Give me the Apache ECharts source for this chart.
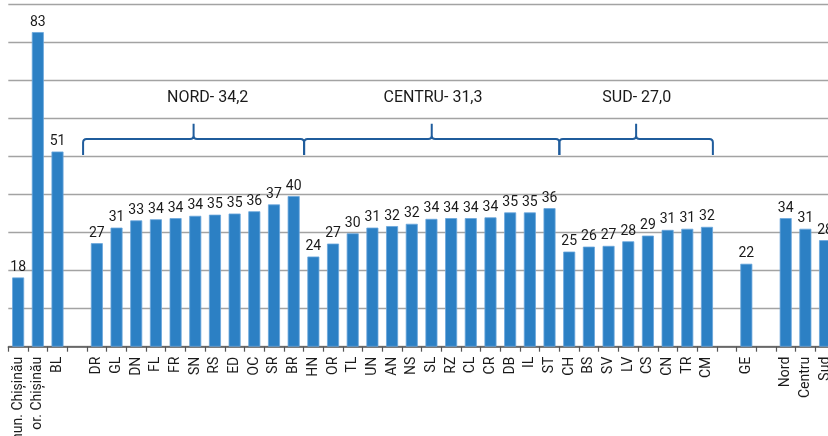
<!DOCTYPE html>
<html>
<head>
<meta charset="utf-8">
<script src="https://cdn.jsdelivr.net/npm/echarts@6/dist/echarts.min.js"></script>
<style>
  html, body { margin: 0; padding: 0; background: #fff; }
  #chart { width: 828px; height: 436px; }
</style>
</head>
<body>
<div id="chart"></div>
<script>
// ---- data ----
const categories = ['mun. Chișinău', 'or. Chișinău', 'BL', '',
  'DR', 'GL', 'DN', 'FL', 'FR', 'SN', 'RS', 'ED', 'OC', 'SR', 'BR',
  'HN', 'OR', 'TL', 'UN', 'AN', 'NS', 'SL', 'RZ', 'CL', 'CR', 'DB', 'IL', 'ST',
  'CH', 'BS', 'SV', 'LV', 'CS', 'CN', 'TR', 'CM', '', 'GE', '', 'Nord', 'Centru', 'Sud'];
const values = [18.2, 82.7, 51.3, null,
  27.2, 31.3, 33.2, 33.5, 33.8, 34.4, 34.7, 35.0, 35.6, 37.4, 39.6,
  23.7, 27.1, 29.8, 31.3, 31.7, 32.3, 33.6, 33.8, 33.8, 34.0, 35.3, 35.3, 36.4,
  25.0, 26.3, 26.5, 27.7, 29.2, 30.7, 31.0, 31.5, null, 21.8, null, 33.8, 31.0, 28.0];
const groupNames = ['NORD', 'CENTRU', 'SUD'];
const groupMeans = ['34,2', '31,3', '27,0'];
const groupFrom = [3.8, 15.03, 28];   // in category-boundary units
const groupTo = [15.03, 28, 35.8];
const groupTextAt = [10.13, 21.58, 31.93];

const FONT = 'Roboto';
const chart = echarts.init(document.getElementById('chart'), null, { renderer: 'canvas' });

function braceRender(params, api) {
  const i = params.dataIndex;
  const step = api.size([1, 0])[0];
  const c0 = api.coord([0, 54.6]);
  const edge0 = c0[0] - step / 2;
  const y = c0[1];
  const yEnd = api.coord([0, 50.4])[1];
  const yPeak = api.coord([0, 58.6])[1];
  const x1 = edge0 + groupFrom[i] * step;
  const x2 = edge0 + groupTo[i] * step;
  const xm = (x1 + x2) / 2;
  const r = 3.5;
  const d = [
    'M', x1, yEnd, 'L', x1, y + r, 'Q', x1, y, x1 + r, y,
    'L', xm - r, y, 'Q', xm, y, xm, y - r, 'L', xm, yPeak,
    'M', xm, yPeak, 'L', xm, y - r, 'Q', xm, y, xm + r, y,
    'L', x2 - r, y, 'Q', x2, y, x2, y + r, 'L', x2, yEnd
  ].join(' ');
  const ty = api.coord([0, 65.3])[1];
  const tx = edge0 + groupTextAt[i] * step;
  return {
    type: 'group',
    children: [
      { type: 'path', shape: { pathData: d },
        style: { stroke: '#1f5c9c', lineWidth: 2, fill: 'none' } },
      { type: 'text', x: tx, y: ty,
        style: { text: groupNames[i] + '- ' + groupMeans[i], align: 'center', verticalAlign: 'middle',
                 font: '16px ' + FONT, fill: '#1a1a1a' } }
    ]
  };
}

chart.setOption({
  animation: false,
  backgroundColor: '#ffffff',
  grid: { left: 8.3, right: -6.9, top: 4.3, bottom: 89.3, containLabel: false, outerBoundsMode: 'none' },
  xAxis: {
    type: 'category',
    data: categories,
    boundaryGap: true,
    axisLine: { show: true, lineStyle: { color: '#555', width: 1.5 } },
    axisTick: { show: true, length: 5, lineStyle: { color: '#555', width: 1.2 } },
    axisLabel: { interval: 0, rotate: 90, margin: 10, fontFamily: FONT, fontSize: 14, color: '#1a1a1a' }
  },
  yAxis: {
    type: 'value', min: 0, max: 90, interval: 10,
    axisLabel: { show: false }, axisLine: { show: false }, axisTick: { show: false },
    splitLine: { show: true, lineStyle: { color: '#a3a3a3', width: 1.4 } }
  },
  series: [
    {
      type: 'bar',
      data: values,
      barWidth: 12,
      itemStyle: { color: '#2c80c4', borderColor: '#6aa6dc', borderWidth: 0.8 },
      label: {
        show: true, position: 'top', distance: 3,
        fontFamily: FONT, fontSize: 14, color: '#1a1a1a',
        formatter: p => (p.value == null ? '' : String(Math.round(p.value)))
      },
      z: 2
    },
    {
      type: 'custom',
      renderItem: braceRender,
      data: groupNames.map(() => [0, 54.6]),
      silent: true,
      clip: false,
      z: 5
    }
  ]
});
</script>
</body>
</html>
